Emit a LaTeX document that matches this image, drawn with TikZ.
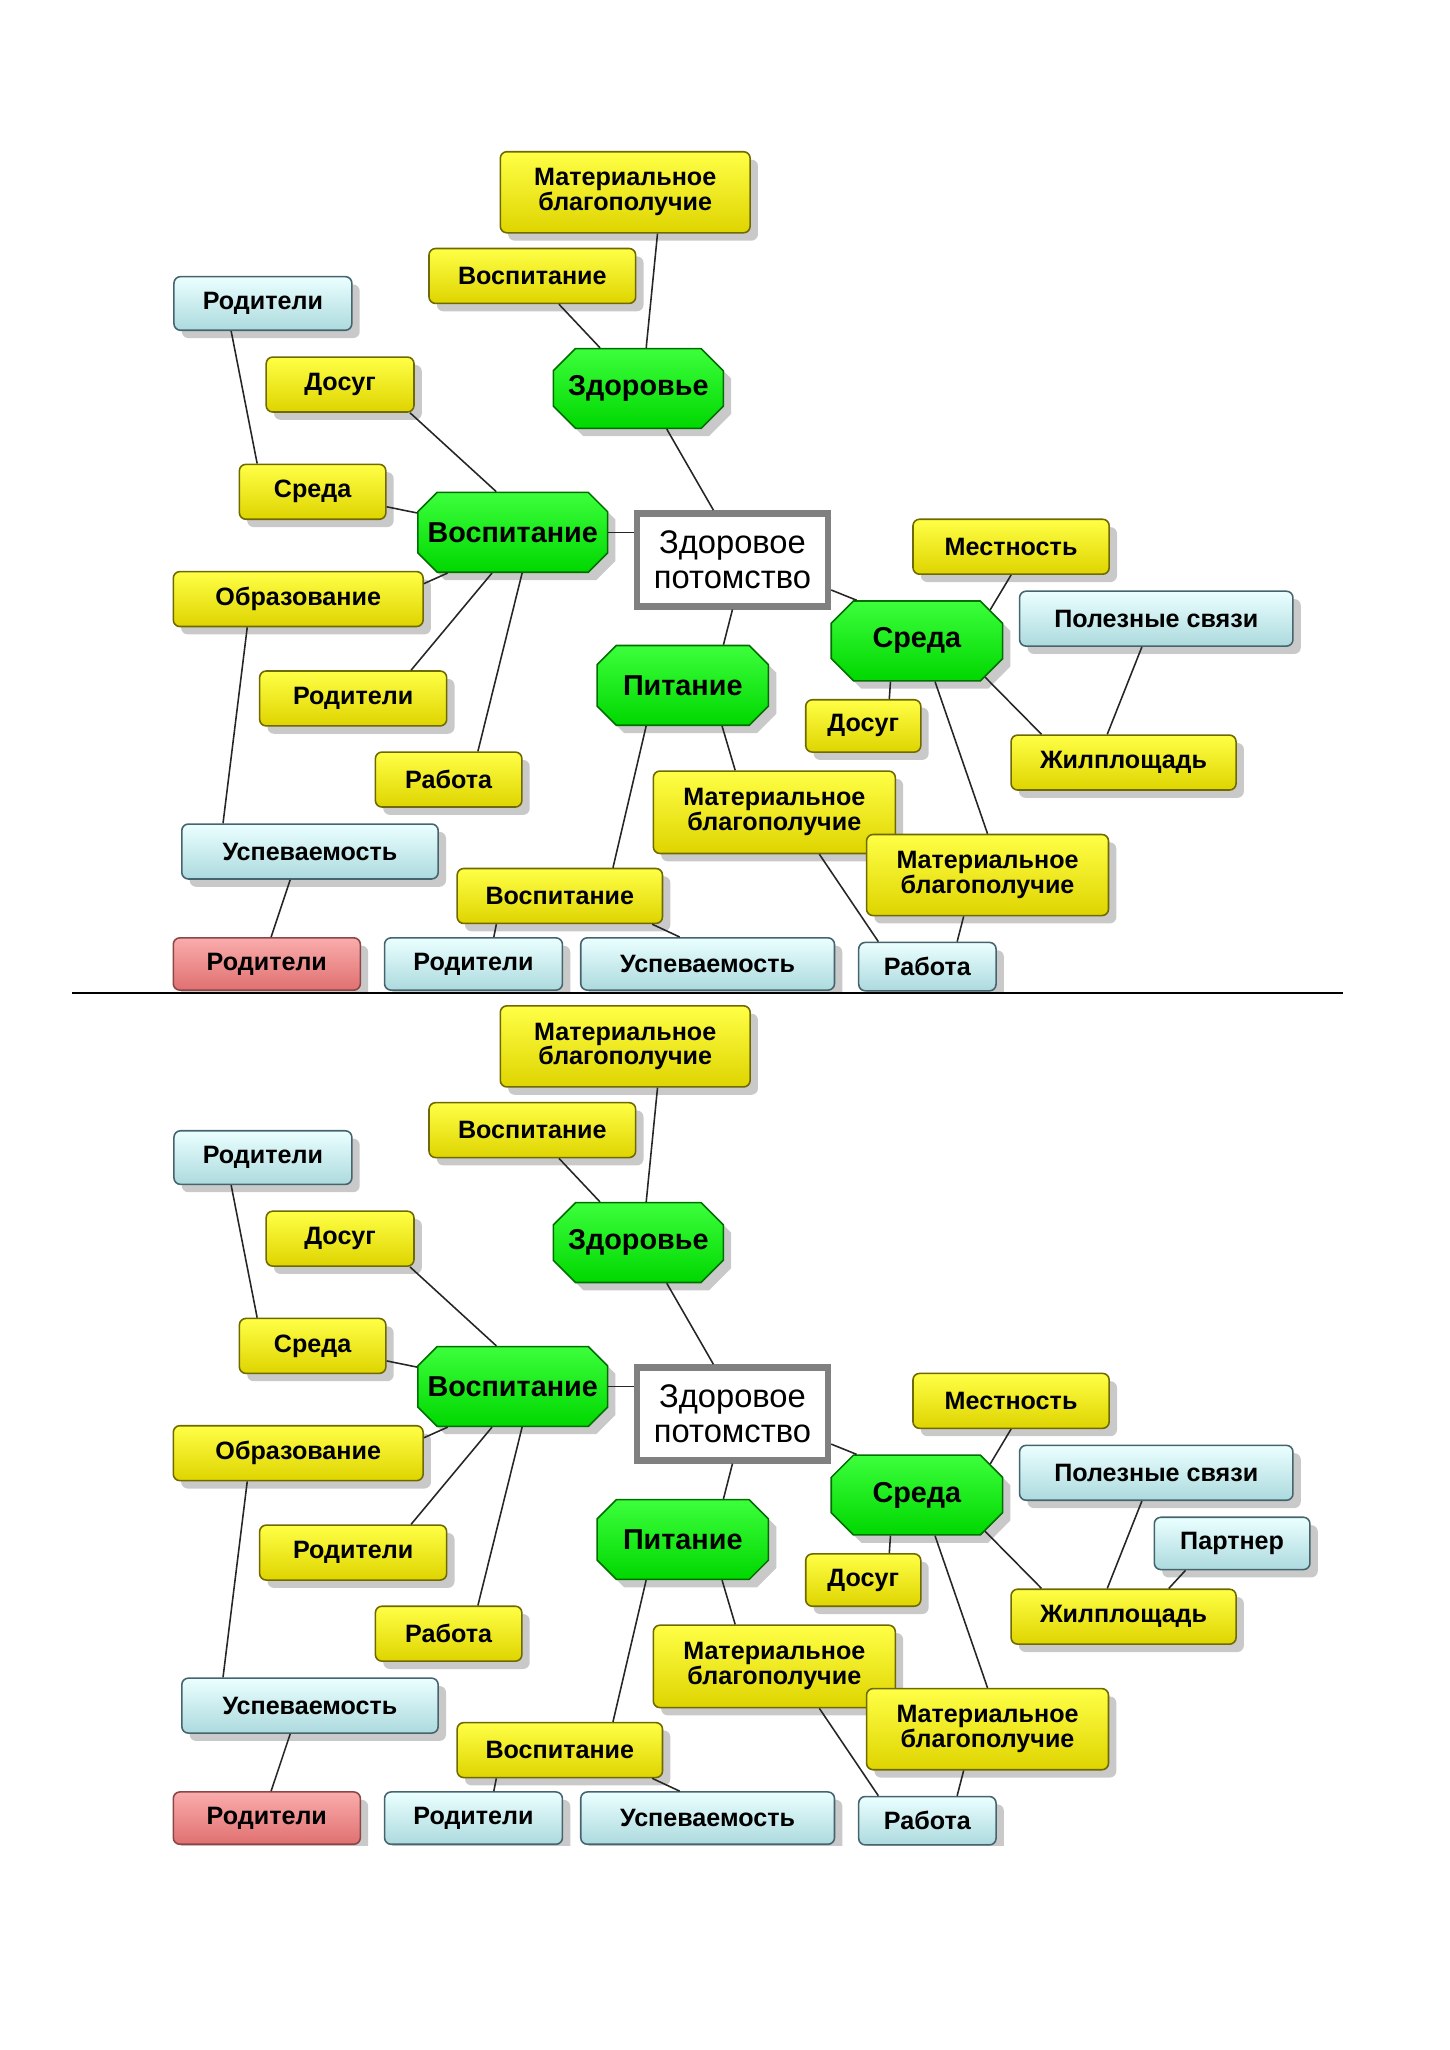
\documentclass[tikz,border=0pt]{standalone}
\usepackage{fontspec}
\setmainfont{Liberation Sans}
\usetikzlibrary{shapes.misc,shadows}

\definecolor{ytop}{RGB}{255,255,70}
\definecolor{ybot}{RGB}{222,212,0}
\definecolor{yline}{RGB}{110,105,0}
\definecolor{btop}{RGB}{235,255,255}
\definecolor{bbot}{RGB}{172,218,222}
\definecolor{bline}{RGB}{70,100,110}
\definecolor{rtop}{RGB}{250,172,172}
\definecolor{rbot}{RGB}{224,112,112}
\definecolor{rline}{RGB}{140,70,70}
\definecolor{gtop}{RGB}{60,255,60}
\definecolor{gbot}{RGB}{0,215,0}
\definecolor{gline}{RGB}{0,110,0}

\tikzset{
  shade/.style={drop shadow={shadow xshift=3pt,shadow yshift=-3pt,fill=black!30,opacity=.7}},
  yelbox/.style={rectangle,rounded corners=2.5pt,draw=yline,line width=0.6pt,
    top color=ytop,bottom color=ybot,minimum height=21pt,inner sep=1pt,align=center,
    font=\fontsize{9.6}{9.5}\selectfont\bfseries,shade},
  blubox/.style={yelbox,draw=bline,top color=btop,bottom color=bbot},
  redbox/.style={yelbox,draw=rline,top color=rtop,bottom color=rbot},
  oct/.style={chamfered rectangle,chamfered rectangle xsep=7.5pt,
    inner xsep=-7pt,inner ysep=0pt,
    draw=gline,line width=0.6pt,top color=gtop,bottom color=gbot,minimum height=30.5pt,
    font=\fontsize{11}{12}\selectfont\bfseries,shade},
  root/.style={rectangle,draw=gray,line width=2.5pt,fill=white,minimum width=73pt,
    minimum height=35.5pt,align=center,font=\fontsize{12.5}{13.5}\selectfont},
  link/.style={line width=0.6pt,black!85}
}

\newcommand\halfmap{%
\node (c) at (560,428) [root] {Здоровое\\потомство};
\node (z) at (488,297) [oct,minimum width=65pt] {Здоровье};
\node (v) at (392,407) [oct,minimum width=72.5pt] {Воспитание};
\node (s) at (701,490) [oct,minimum width=65.5pt] {Среда};
\node (p) at (522,524) [oct,minimum width=65.5pt] {Питание};

\node (zm) at (478,147) [yelbox,minimum width=95.5pt,minimum height=31pt] {Материальное\\благополучие};
\node (zv) at (407,211) [yelbox,minimum width=79pt] {Воспитание};

\node (vd) at (260,294) [yelbox,minimum width=56.5pt] {Досуг};
\node (vs) at (239,376) [yelbox,minimum width=56pt] {Среда};
\node (vsr) at (201,232) [blubox,minimum width=68pt,minimum height=20.5pt] {Родители};
\node (vo) at (228,458) [yelbox,minimum width=95.5pt] {Образование};
\node (vou) at (237,651) [blubox,minimum width=98pt] {Успеваемость};
\node (vour) at (204,737) [redbox,minimum width=71.5pt,minimum height=20pt] {Родители};
\node (vr) at (270,534) [yelbox,minimum width=71.5pt] {Родители};
\node (vw) at (343,596) [yelbox,minimum width=56pt] {Работа};

\node (pm) at (592,621) [yelbox,minimum width=92.5pt,minimum height=31.5pt] {Материальное\\благополучие};
\node (pv) at (428,685) [yelbox,minimum width=78.5pt] {Воспитание};
\node (pvr) at (362,737) [blubox,minimum width=68pt,minimum height=20pt] {Родители};
\node (pvu) at (541,737) [blubox,minimum width=97pt,minimum height=20pt] {Успеваемость};

\node (sl) at (773,418) [yelbox,minimum width=75pt] {Местность};
\node (sd) at (660,555) [yelbox,minimum width=44pt,minimum height=20pt] {Досуг};
\node (sm) at (755,669) [yelbox,minimum width=92.5pt,minimum height=31pt] {Материальное\\благополучие};
\node (sw) at (709,739) [blubox,minimum width=52.5pt,minimum height=18.5pt] {Работа};
\node (sp) at (884,473) [blubox,minimum width=104.5pt] {Полезные связи};
\node (sh) at (859,583) [yelbox,minimum width=86pt] {Жилплощадь};

\draw [link] (c.111) -- (z.-55);
\draw [link] (v.east) -- (v.east -| c.west);
\draw [link] (c.-17) -- (s.146);
\draw [link] (c.south) -- (p.45);
\draw [link] (z.79) -- (zm.-52);
\draw [link] (z) -- (zv);
\draw [link] (v.112) -- (vd.-22);
\draw [link] (v) -- (vs);
\draw [link] (vs.153) -- (vsr.221);
\draw [link] (v.212) -- (vo.7);
\draw [link] (vo.209) -- (vou.162);
\draw [link] (vou.235) -- (vour.81);
\draw [link] (v.243) -- (vr.26);
\draw [link] (v.283) -- (vw.44);
\draw [link] (p.228) -- (pv.28);
\draw [link] (p.-46) -- (pm.133);
\draw [link] (pv.204) -- (pvr.53);
\draw [link] (pv.-17) -- (pvu.136);
\draw [link] (pm.-43) -- (sw.153);
\draw [link] (sm.240) -- (sw.40);
\draw [link] (s.23) -- (sl.south);
\draw [link] (s.237) -- (sd.46);
\draw [link] (s.294) -- (sm.north);
\draw [link] (s.-28) -- (sh.161);
\draw [link] (sp.243) -- (sh.120);
}

\begin{document}
\begin{tikzpicture}[x=0.5pt,y=-0.5pt]
\useasboundingbox (0,0) rectangle (1108,1567.3);

\begin{scope}
\clip (0,0) rectangle (1108,758);
\halfmap
\end{scope}

\draw [line width=0.8pt] (55,759) -- (1027,759);

\begin{scope}[yshift=-326.5pt,name prefix=b-]
\clip (0,0) rectangle (1108,758);
\halfmap
\node (sq) at (942,527) [blubox,minimum width=59.5pt,minimum height=20pt] {Партнер};
\draw [link] (sq.210) -- (sh.32);
\end{scope}

\end{tikzpicture}
\end{document}
